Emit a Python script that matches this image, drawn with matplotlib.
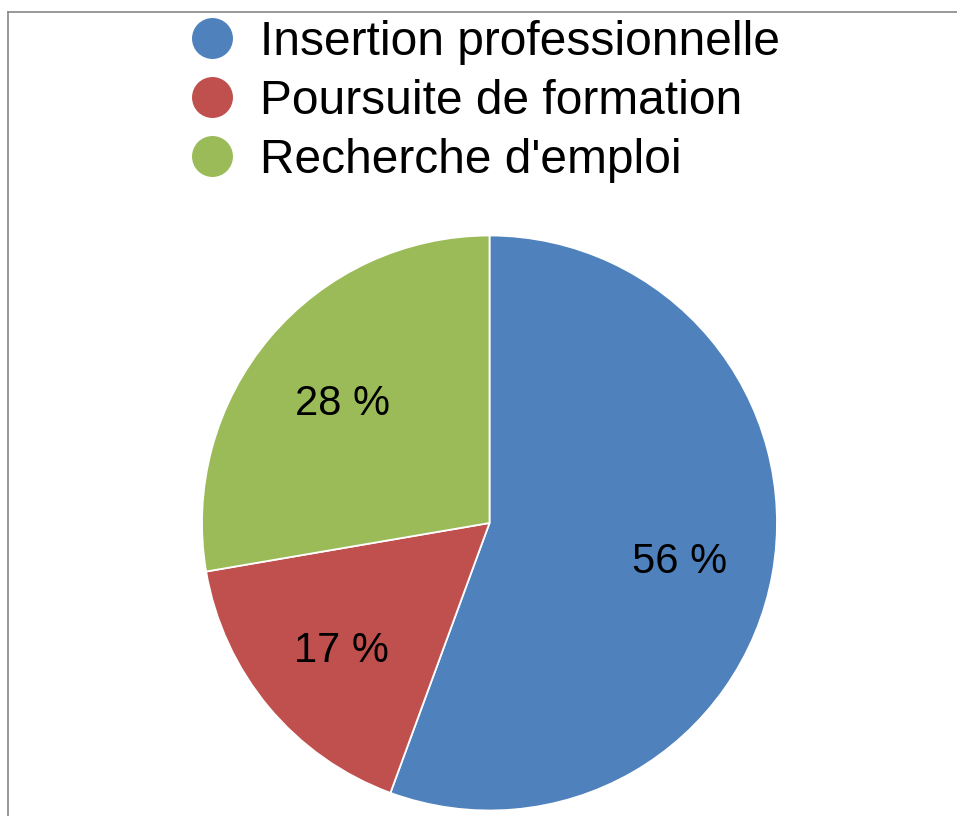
import matplotlib
matplotlib.use("Agg")
import matplotlib.pyplot as plt
from matplotlib.lines import Line2D
from matplotlib.transforms import offset_copy

# data
labels = ["Insertion professionnelle", "Poursuite de formation", "Recherche d'emploi"]
shares = [55.6, 16.7, 27.7]
colors = ["#4F81BD", "#C0504D", "#9BBB59"]

W, H = 957, 816
DPI = 100

fig = plt.figure(figsize=(W / DPI, H / DPI), dpi=DPI)

# pie axes: centre (489.5, 523) px from top-left, radius 287.5 px
cx, cy, r = 489.5, 523, 287.5
ax = fig.add_axes([(cx - r) / W, (H - cy - r) / H, 2 * r / W, 2 * r / H])

wedges, texts, autotexts = ax.pie(
    shares,
    colors=colors,
    startangle=90,
    counterclock=False,
    autopct=lambda p: "%d %%" % round(p),
    pctdistance=0.67,
    wedgeprops=dict(edgecolor="white", linewidth=1.3),
    textprops=dict(color="black", family="Liberation Sans", fontsize=30),
)
# nudge the labels down a little, like the original
for t in autotexts:
    t.set_transform(offset_copy(t.get_transform(), fig=fig, y=-5, units="dots"))

ax.set_xlim(-1, 1)
ax.set_ylim(-1, 1)
ax.set_aspect("equal")
ax.axis("off")

# legend at the top
handles = [
    Line2D([], [], linestyle="none", marker="o", markersize=30.5,
           markerfacecolor=c, markeredgecolor="white", markeredgewidth=1)
    for c in colors
]
fig.legend(
    handles, labels,
    loc="upper left",
    bbox_to_anchor=(188 / W, 1 - 20 / H),
    frameon=False,
    borderpad=0,
    borderaxespad=0,
    handlelength=1.0,
    handletextpad=0.5,
    labelspacing=0.29,
    prop=dict(family="Liberation Sans", size=34.5),
)

# grey frame (top and left edges visible)
fig.add_artist(Line2D([8 / W, 8 / W], [0, 1 - 12 / H], transform=fig.transFigure,
                      color="#878787", linewidth=1.2))
fig.add_artist(Line2D([8 / W, 1], [1 - 12 / H, 1 - 12 / H], transform=fig.transFigure,
                      color="#878787", linewidth=1.2))

fig.savefig("out.png", dpi=DPI)
